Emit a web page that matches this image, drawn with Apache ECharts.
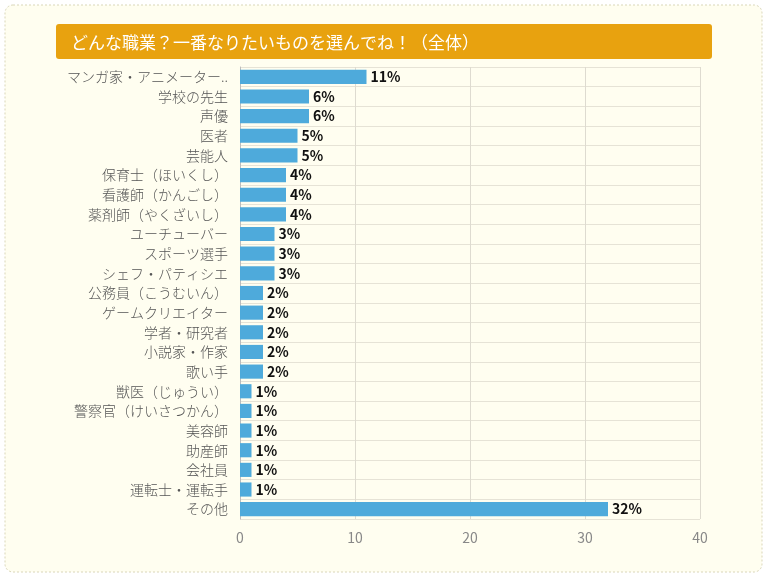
<!DOCTYPE html>
<html lang="ja">
<head>
    <meta charset="utf-8">
    <title>どんな職業？</title>
    <script src="https://cdn.jsdelivr.net/npm/echarts@6/dist/echarts.min.js"></script>
    <style>
        html, body { margin: 0; padding: 0; background: #ffffff; }
        #Chart { width: 767px; height: 578px; }
    </style>
</head>
<body>
    <div id="Chart"></div>
    <script>
        // chart data
        var titleText = 'どんな職業？一番なりたいものを選んでね！（全体）';
        var jobs = [
            'マンガ家・アニメーター..', '学校の先生', '声優', '医者', '芸能人',
            '保育士（ほいくし）', '看護師（かんごし）', '薬剤師（やくざいし）',
            'ユーチューバー', 'スポーツ選手', 'シェフ・パティシエ',
            '公務員（こうむいん）', 'ゲームクリエイター', '学者・研究者', '小説家・作家', '歌い手',
            '獣医（じゅうい）', '警察官（けいさつかん）', '美容師', '助産師', '会社員', '運転士・運転手',
            'その他'
        ];
        var percents = [11, 6, 6, 5, 5, 4, 4, 4, 3, 3, 3, 2, 2, 2, 2, 2, 1, 1, 1, 1, 1, 1, 32];
        var xTicks = [0, 10, 20, 30, 40];

        var font = '"Noto Sans CJK JP", "Noto Sans", sans-serif';
        var chart = echarts.init(document.getElementById('Chart'));

        var option = {
            animation: false,
            backgroundColor: '#ffffff',
            textStyle: { fontFamily: font },
            graphic: [
                {
                    type: 'rect', z: -10,
                    shape: { x: 5, y: 5, width: 757, height: 567, r: 8 },
                    style: { fill: '#fffef0', stroke: '#d9d6b8', lineWidth: 1, lineDash: [2, 2] }
                },
                {
                    type: 'rect', z: -5,
                    shape: { x: 56, y: 24, width: 656, height: 35, r: 3 },
                    style: { fill: '#e8a20f' }
                }
            ],
            title: {
                text: titleText,
                left: 66,
                top: 29,
                textStyle: { color: '#ffffff', fontSize: 17, fontWeight: 'normal', fontFamily: font }
            },
            grid: { left: 240, right: 67, top: 67, bottom: 59 },
            xAxis: {
                type: 'value',
                min: xTicks[0],
                max: xTicks[xTicks.length - 1],
                interval: 10,
                axisLine: { show: false },
                axisTick: { show: false },
                axisLabel: { color: '#888', fontSize: 14, margin: 12 },
                splitLine: { lineStyle: { color: '#dedbd0' } }
            },
            yAxis: {
                type: 'category',
                data: jobs,
                inverse: true,
                axisLine: { lineStyle: { color: '#bdbdbd' } },
                axisTick: { show: false },
                axisLabel: { color: '#555', fontSize: 14, fontWeight: 300, margin: 12 },
                splitLine: { show: true, lineStyle: { color: '#e6e3d6' } }
            },
            series: [{
                type: 'bar',
                data: percents,
                barCategoryGap: '28%',
                itemStyle: { color: '#4eaadb' },
                label: {
                    show: true,
                    position: 'right',
                    distance: 4,
                    formatter: '{c}%',
                    color: '#111',
                    fontSize: 14,
                    fontWeight: 'bold'
                }
            }]
        };

        chart.setOption(option);
    </script>
</body>
</html>
